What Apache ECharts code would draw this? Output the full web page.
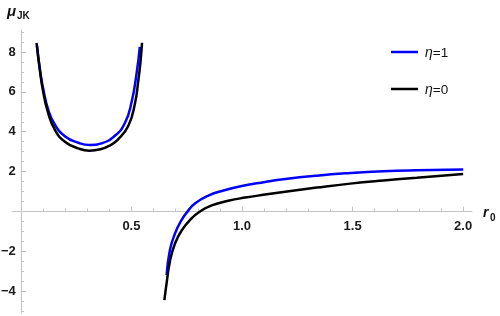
<!DOCTYPE html>
<html>
<head>
<meta charset="utf-8">
<script src="https://cdn.jsdelivr.net/npm/echarts@6/dist/echarts.min.js"></script>
<style>
html,body{margin:0;padding:0;background:#fff;}
#c{width:500px;height:316px;}
</style>
</head>
<body>
<div id="c"></div>
<script>
// ---- data ----
const eta1Left = [[0.073,8.30],[0.086,7.15],[0.101,6.15],[0.124,5.10],[0.154,4.35],[0.199,3.78],[0.259,3.45],[0.312,3.33],[0.365,3.42],[0.425,3.80],[0.471,4.45],[0.501,5.50],[0.523,6.90],[0.538,8.26]];
const eta1Right = [[0.659,-3.18],[0.674,-1.93],[0.697,-1.10],[0.727,-0.42],[0.755,0.02],[0.787,0.40],[0.848,0.80],[0.908,1.03],[0.999,1.28],[1.104,1.48],[1.187,1.62],[1.338,1.80],[1.489,1.93],[1.639,2.02],[1.790,2.07],[2.000,2.11]];
const eta0Left = [[0.071,8.46],[0.086,7.09],[0.101,6.00],[0.124,4.92],[0.154,4.09],[0.199,3.50],[0.259,3.17],[0.310,3.05],[0.360,3.12],[0.400,3.30],[0.440,3.62],[0.486,4.30],[0.516,5.42],[0.531,6.55],[0.541,7.50],[0.548,8.46]];
const eta0Right = [[0.649,-4.44],[0.659,-3.60],[0.674,-2.50],[0.697,-1.60],[0.727,-0.95],[0.772,-0.34],[0.810,0.00],[0.863,0.31],[0.938,0.54],[1.014,0.70],[1.104,0.85],[1.187,0.98],[1.338,1.20],[1.489,1.40],[1.639,1.56],[1.790,1.70],[2.000,1.88]];
const seriesNames = ['η=1','η=0'];
const xMajorTicks = [0.5,1.0,1.5,2.0];
const xMinorTicks = [0.1,0.2,0.3,0.4,0.5,0.6,0.7,0.8,0.9,1.0,1.1,1.2,1.3,1.4,1.5,1.6,1.7,1.8,1.9,2.0];
const yMajorTicks = [-4,-2,2,4,6,8];
const yMinorTicks = [-5,-4.5,-4,-3.5,-3,-2.5,-2,-1.5,-1,-0.5,0.5,1,1.5,2,2.5,3,3.5,4,4.5,5,5.5,6,6.5,7,7.5,8,8.5,9];

// ---- layout ----
const W = 500, H = 316;
const G = {left:12, right:28, top:30, bottom:2.7};
const xMin = -0.04, xMax = 2.04, yMin = -5.1, yMax = 9.1;
const gridW = W - G.left - G.right, gridH = H - G.top - G.bottom;
// axes cross at (0,0): shift them from the grid edges to the zero positions
const xAxisOffset = -((0 - yMin) / (yMax - yMin)) * gridH;
const yAxisOffset = -((0 - xMin) / (xMax - xMin)) * gridW;

const chart = echarts.init(document.getElementById('c'), null, {renderer:'canvas'});
const axisGrey = '#c4c4c4';
const labelStyle = {color:'#1a1a1a', fontFamily:'Liberation Sans, Arial, sans-serif', fontWeight:'bold', fontSize:13};

function lineSeries(name, data, color){
  return {
    type:'line', name:name, data:data,
    showSymbol:false, symbol:'none', smooth:true,
    color:color, lineStyle:{color:color, width:2.5, cap:'butt'},
    itemStyle:{color:color}, animation:false, silent:true
  };
}

chart.setOption({
  animation:false,
  grid:{left:G.left, right:G.right, top:G.top, bottom:G.bottom, containLabel:false, outerBoundsMode:'none'},
  xAxis:[
    {type:'value', min:xMin, max:xMax, position:'bottom', offset:xAxisOffset,
     axisLine:{show:true, onZero:false, lineStyle:{color:axisGrey, width:1}},
     axisTick:{show:true, inside:true, length:3, customValues:xMinorTicks, lineStyle:{color:axisGrey}},
     axisLabel:{show:true, customValues:xMajorTicks, margin:8.5, formatter:v=>v.toFixed(1), ...labelStyle},
     splitLine:{show:false}},
    {type:'value', min:xMin, max:xMax, position:'bottom', offset:xAxisOffset,
     axisLine:{show:false, onZero:false},
     axisTick:{show:true, inside:true, length:5, customValues:xMajorTicks, lineStyle:{color:axisGrey}},
     axisLabel:{show:false}, splitLine:{show:false}}
  ],
  yAxis:[
    {type:'value', min:yMin, max:yMax, position:'left', offset:yAxisOffset,
     axisLine:{show:true, onZero:false, lineStyle:{color:axisGrey, width:1}},
     axisTick:{show:true, inside:true, length:3, customValues:yMinorTicks, lineStyle:{color:axisGrey}},
     axisLabel:{show:true, customValues:yMajorTicks, margin:5, formatter:v=>String(v).replace('-', '\u2212'), ...labelStyle},
     splitLine:{show:false}},
    {type:'value', min:yMin, max:yMax, position:'left', offset:yAxisOffset,
     axisLine:{show:false, onZero:false},
     axisTick:{show:true, inside:true, length:5, customValues:yMajorTicks, lineStyle:{color:axisGrey}},
     axisLabel:{show:false}, splitLine:{show:false}}
  ],
  legend:{
    orient:'vertical', left:386, top:41, itemWidth:27, itemHeight:2.5, itemGap:23,
    icon:'rect', data:seriesNames,
    formatter:function(n){ return '{i|η}{n|' + n.slice(1) + '}'; },
    textStyle:{padding:[2,0,0,2], rich:{
      i:{fontFamily:'Liberation Sans, Arial, sans-serif', fontStyle:'italic', fontSize:14, color:'#111'},
      n:{fontFamily:'Liberation Sans, Arial, sans-serif', fontSize:13.5, color:'#111'}
    }}
  },
  graphic:[
    {type:'text', left:7, top:4, style:{text:'μ', font:'italic bold 15px "Liberation Sans", Arial, sans-serif', fill:'#111'}},
    {type:'text', left:17, top:11, style:{text:'JK', font:'bold 10px "Liberation Sans", Arial, sans-serif', fill:'#111'}},
    {type:'text', left:483, top:206, style:{text:'r', font:'italic bold 14px "Liberation Sans", Arial, sans-serif', fill:'#111'}},
    {type:'text', left:490, top:213, style:{text:'0', font:'bold 10px "Liberation Sans", Arial, sans-serif', fill:'#111'}}
  ],
  series:[
    lineSeries(seriesNames[0], eta1Left, '#0000ff'),
    lineSeries(seriesNames[0], eta1Right, '#0000ff'),
    lineSeries(seriesNames[1], eta0Left, '#000000'),
    lineSeries(seriesNames[1], eta0Right, '#000000')
  ]
});
</script>
</body>
</html>
